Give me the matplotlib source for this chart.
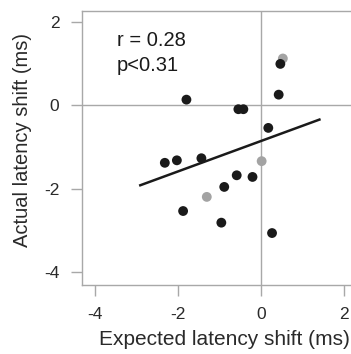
import matplotlib
matplotlib.use('Agg')
import matplotlib.pyplot as plt

plt.rcParams['font.family'] = ['Liberation Sans', 'DejaVu Sans']

# measured points (ms)
x_black = [-1.80, -0.55, -0.43, 0.46, 0.42, 0.17, -2.32, -2.03, -1.44,
           -0.59, -0.21, -0.89, -1.88, -0.96, 0.26]
y_black = [0.14, -0.09, -0.09, 1.00, 0.26, -0.54, -1.38, -1.32, -1.27,
           -1.68, -1.72, -1.96, -2.54, -2.82, -3.07]
x_gray = [0.52, 0.01, -1.31]
y_gray = [1.13, -1.34, -2.20]

# regression line end points
fit_x = [-2.91, 1.40]
fit_y = [-1.92, -0.34]

ticks = [-4, -2, 0, 2]

fig = plt.figure(figsize=(3.51, 3.54), dpi=100)
ax = fig.add_axes([81.7/351, 1 - 285/354, (351 - 81.7)/351, (285 - 10.7)/354])

spine_col = '#a8a8a8'
ax.axhline(0, color=spine_col, lw=1.0, zorder=1)
ax.axvline(0, color=spine_col, lw=1.0, zorder=1)

ax.scatter(x_gray, y_gray, s=50, color='#a3a3a3', edgecolors='none', zorder=3)
ax.scatter(x_black, y_black, s=50, color='#1a1a1a', edgecolors='none', zorder=4)
ax.plot(fit_x, fit_y, color='#1a1a1a', lw=1.8, zorder=5)

ax.set_xlim(-4.32, 2.16)
ax.set_ylim(-4.32, 2.28)
ax.set_xticks(ticks)
ax.set_yticks(ticks)
ax.set_xticklabels([str(t) for t in ticks])
ax.set_yticklabels([str(t) for t in ticks])

for s in ['top', 'bottom', 'left']:
    ax.spines[s].set_color(spine_col)
    ax.spines[s].set_linewidth(1.0)
ax.spines['right'].set_visible(False)

ax.tick_params(axis='both', colors=spine_col, length=8, width=1.0,
               labelcolor='#2a2a2a', labelsize=12.5, pad=8)

ax.set_xlabel('Expected latency shift (ms)', fontsize=15, color='#2a2a2a')
ax.set_ylabel('Actual latency shift (ms)', fontsize=14.5, color='#2a2a2a')
ax.xaxis.set_label_coords(0.53, -0.164)
ax.yaxis.set_label_coords(-0.185, 0.528)

ax.text(-3.47, 1.56, 'r = 0.28', fontsize=14.5, color='#1a1a1a', va='center')
ax.text(-3.47, 0.96, 'p<0.31', fontsize=14.5, color='#1a1a1a', va='center')

fig.savefig('out.png', dpi=100)
